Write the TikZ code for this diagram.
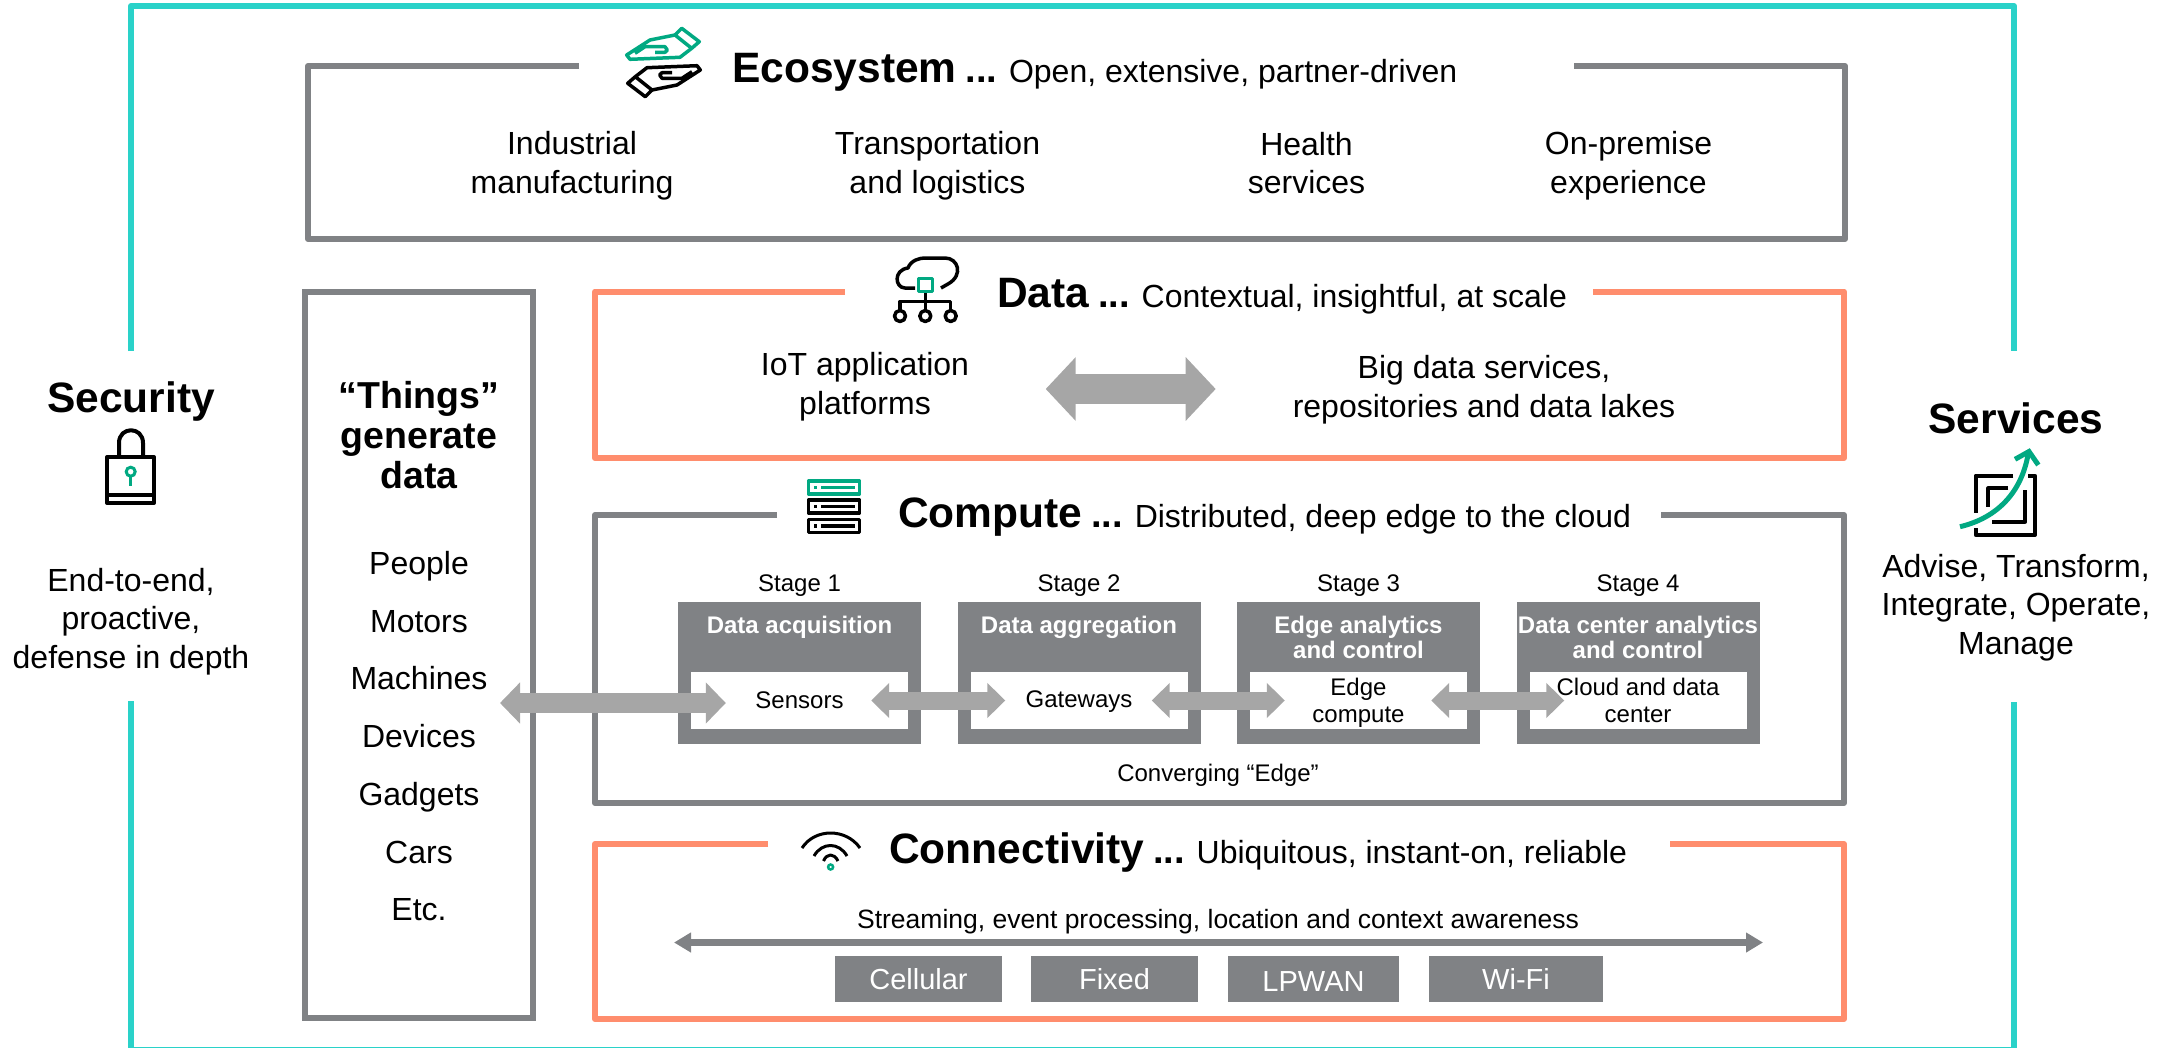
\documentclass[tikz,border=0pt]{standalone}
\usepackage{fontspec}
\setmainfont{Liberation Sans}
\usetikzlibrary{positioning,arrows.meta}
\definecolor{frameteal}{HTML}{2AD2C9}
\definecolor{boxgray}{HTML}{808285}
\definecolor{arrowgray}{HTML}{A6A6A6}
\definecolor{salmon}{HTML}{FF8D6D}
\definecolor{hpegreen}{HTML}{01A982}
\newcommand{\heading}[1]{{\fontsize{42.5}{50}\selectfont\bfseries #1}}
\newcommand{\headdots}{{\fontsize{38}{40}\selectfont\bfseries ...}}
\begin{document}
\begin{tikzpicture}[
    x=1pt, y=-1pt,
    node distance=279.5pt,
    every node/.style={inner sep=0pt},
    frameline/.style={line width=6pt, line join=round},
    bigtxt/.style={font=\fontsize{32}{38.5}\selectfont, align=center},
    titletxt/.style={font=\fontsize{32}{38.5}\selectfont, anchor=base west},
    thingitem/.style={font=\fontsize{32}{38}\selectfont, text height=23pt, text depth=7pt},
    stagebox/.style={rectangle, fill=boxgray, minimum width=243pt, minimum height=142pt},
    stageinner/.style={rectangle, fill=white, minimum width=217pt, minimum height=57pt, font=\fontsize{24}{26.5}\selectfont, align=center},
    stagelabel/.style={font=\fontsize{24}{28}\selectfont},
    stagehead/.style={font=\fontsize{24}{25.5}\selectfont\bfseries, text=white, align=center},
    radiobox/.style={rectangle, fill=boxgray, text=white, minimum height=46pt, font=\fontsize{29}{34}\selectfont},
    bigarrow/.style={arrowgray, line width=18pt, {Triangle[length=18pt,width=34pt]}-{Triangle[length=18pt,width=34pt]}},
    iconline/.style={line width=3.5pt, line join=round},
    hand/.pic={
        \draw [iconline, pic actions] (18.2,-34.2) -- (35.8,-20.8) -- (28.2,-14.2) -- (11.5,-27.5) -- cycle;
        \draw [iconline, pic actions] (14,-28) -- (-13.5,-22.5) -- (-36.8,-7.5) -- (-33.5,-3.2) -- (16.5,-5.2) -- (28.2,-14.2);
        \draw [iconline, pic actions] (-28.5,-9.2) -- (-18.5,-15.8) -- (1.5,-15.8) -- (3.8,-12.5) -- (1.5,-10.2) -- (-8.5,-10.2);
    },
    server/.pic={
        \draw [iconline, pic actions] (-25.5,-6.5) rectangle (25.5,6.5);
        \draw [iconline, pic actions] (-20,0) -- (-17,0) (-13,0) -- (21,0);
    }
]
    \useasboundingbox (0,0) rectangle (2177,1047);

    % Outer frame
    \draw [frameline, frameteal] (131,351) -- (131,6) -- (2014,6) -- (2014,351);
    \draw [frameline, frameteal] (131,701) -- (131,1049.8) -- (2014,1049.8) -- (2014,702);

    % Block outlines
    \draw [frameline, boxgray] (579,66) -- (308,66) -- (308,239) -- (1845,239) -- (1845,66) -- (1574,66);
    \draw [frameline, salmon] (845,291.5) -- (595,291.5) -- (595,458) -- (1844,458) -- (1844,291.5) -- (1593,291.5);
    \draw [frameline, boxgray] (777,515) -- (595,515) -- (595,803) -- (1844,803) -- (1844,515) -- (1661,515);
    \draw [frameline, salmon] (768,844) -- (595,844) -- (595,1019) -- (1844,1019) -- (1844,844) -- (1670,844);
    \node [rectangle, draw=boxgray, line width=6pt, minimum width=228pt, minimum height=726pt] (things) at (419,655) {};

    % Security and services
    \node [font=\fontsize{42.5}{50}\selectfont\bfseries] (security) at (131,402) {Security};
    \node [bigtxt] (securitytxt) at (131,621.5) {End-to-end,\\proactive,\\defense in depth};
    \node [font=\fontsize{42.5}{50}\selectfont\bfseries] (services) at (2016,418) {Services};
    \node [bigtxt] (servicestxt) at (2016,607.5) {Advise, Transform,\\Integrate, Operate,\\Manage};

    % Titles
    \node [titletxt] (ecotitle) at (732,82) {\heading{Ecosystem} \headdots{} Open, extensive, partner-driven};
    \node [titletxt] (datatitle) at (997,307) {\heading{Data} \headdots{} Contextual, insightful, at scale};
    \node [titletxt] (comptitle) at (898,527) {\heading{Compute} \headdots{} Distributed, deep edge to the cloud};
    \node [titletxt] (conntitle) at (889,863) {\heading{Connectivity} \headdots{} Ubiquitous, instant-on, reliable};

    % Ecosystem items
    \node [bigtxt] (industrial) at (572,165.8) {Industrial\\manufacturing};
    \node [bigtxt] (transport) at (937.5,165.8) {Transportation\\and logistics};
    \node [bigtxt] (health) at (1306.5,163) {Health\\services};
    \node [bigtxt] (premise) at (1628.5,165.8) {On-premise\\experience};

    % Data items
    \node [bigtxt] (iot) at (865,386.8) {IoT application\\platforms};
    \node [bigtxt] (bigdata) at (1484,389.8) {Big data services,\\repositories and data lakes};
    \coordinate (dataleft) at (1045.7,389);
    \coordinate (dataright) at (1215.7,389);
    \draw [arrowgray, line width=30pt, {Triangle[length=30pt,width=62pt]}-{Triangle[length=30pt,width=62pt]}] (dataleft) -- (dataright);

    % Things
    \node [font=\fontsize{37.5}{40}\selectfont\bfseries, align=center] (thingstitle) at (419,435) {“Things”\\generate\\data};
    \node [thingitem] (people) at (419,566.5) {People};
    \node [thingitem, below of=people, node distance=57.7pt] (motors) {Motors};
    \node [thingitem, below of=motors, node distance=57.7pt] (machines) {Machines};
    \node [thingitem, below of=machines, node distance=57.7pt] (devices) {Devices};
    \node [thingitem, below of=devices, node distance=57.7pt] (gadgets) {Gadgets};
    \node [thingitem, below of=gadgets, node distance=57.7pt] (cars) {Cars};
    \node [thingitem, below of=cars, node distance=57.7pt] (etc) {Etc.};

    % Stages
    \node [stagebox] (st1) at (799.5,673) {};
    \node [stagebox, right of=st1] (st2) {};
    \node [stagebox, right of=st2] (st3) {};
    \node [stagebox, right of=st3] (st4) {};

    \node [stagelabel] at ([yshift=16.5pt]st1.north) {Stage 1};
    \node [stagelabel] at ([yshift=16.5pt]st2.north) {Stage 2};
    \node [stagelabel] at ([yshift=16.5pt]st3.north) {Stage 3};
    \node [stagelabel] at ([yshift=16.5pt]st4.north) {Stage 4};

    \node [stagehead] at ([yshift=-25.5pt]st1.north) {Data acquisition};
    \node [stagehead] at ([yshift=-25.5pt]st2.north) {Data aggregation};
    \node [stagehead] at ([yshift=-35.5pt]st3.north) {Edge analytics\\and control};
    \node [stagehead] at ([yshift=-35.5pt]st4.north) {Data center analytics\\and control};

    \node [stageinner] (sensors) at ([yshift=-27.5pt]st1.center) {Sensors};
    \node [stageinner] (gateways) at ([yshift=-27.5pt]st2.center) {\rule{0pt}{19.5pt}Gateways};
    \node [stageinner] (edge) at ([yshift=-27.5pt]st3.center) {\rule{0pt}{21.5pt}Edge\\compute};
    \node [stageinner] (cloud) at ([yshift=-27.5pt]st4.center) {};
    \node [stagelabel] (converging) at (1218,775) {Converging “Edge”};

    % Stage arrows
    \coordinate (thingsend) at (500,703);
    \draw [bigarrow, line width=20pt, {Triangle[length=20pt,width=40pt]}-{Triangle[length=20pt,width=40pt]}] (thingsend) -- ([xshift=35pt,yshift=-2.5pt]sensors.west);
    \draw [bigarrow] ([xshift=-37pt]sensors.east) -- ([xshift=35pt]gateways.west);
    \draw [bigarrow] ([xshift=-36pt]gateways.east) -- ([xshift=35pt]edge.west);
    \draw [bigarrow] ([xshift=-36pt]edge.east) -- ([xshift=35pt]cloud.west);
    \node [font=\fontsize{24}{26.5}\selectfont, align=center] at (cloud) {Cloud and data\\center};

    % Connectivity
    \node [font=\fontsize{26.5}{30}\selectfont] (streaming) at (1218,921.8) {Streaming, event processing, location and context awareness};
    \coordinate (streamleft) at (674,942.5);
    \coordinate (streamright) at (1763,942.5);
    \draw [boxgray, line width=7pt, {Triangle[length=17pt,width=19pt]}-{Triangle[length=17pt,width=19pt]}] (streamleft) -- (streamright);
    \node [radiobox, minimum width=167pt] (cellular) at (918.5,979) {Cellular};
    \node [radiobox, minimum width=167pt] (fixed) at (1114.5,979) {Fixed};
    \node [radiobox, minimum width=171pt] (lpwan) at (1313.5,979) {\rule{0pt}{24pt}LPWAN};
    \node [radiobox, minimum width=174pt] (wifi) at (1516,979) {Wi-Fi};

    % Icons
    \pic [hpegreen] at (663.5,62.5) {hand};
    \pic [black, rotate=180] at (663.5,62.5) {hand};

    \draw [iconline] (915,288) -- (905,288) .. controls (895,288) and (893,270) .. (908,268) .. controls (911,260) and (920,258) .. (925,258) -- (945,258) .. controls (958,258) and (964,275) .. (948,284) -- (941,288);
    \draw [iconline, hpegreen] (918.5,278.5) rectangle (932.5,291.5);
    \draw [iconline] (925.5,293) -- (925.5,310) (900,310) -- (900,301.5) -- (950.7,301.5) -- (950.7,310);
    \draw [iconline] (900,316) circle [radius=5.5pt] (925.3,316) circle [radius=5.5pt] (950.7,316) circle [radius=5.5pt];

    \pic [hpegreen] at (834,487.5) {server};
    \pic [black] at (834,506.5) {server};
    \pic [black] at (834,526) {server};

    \draw [iconline, line width=3pt] (802,848) .. controls (815,828) and (846,828) .. (860,848);
    \draw [iconline, line width=3pt] (814,856) .. controls (822,842) and (839,842) .. (847,856);
    \draw [iconline, line width=3pt] (823.5,861) .. controls (827,853) and (834,853) .. (838,861);
    \draw [hpegreen, line width=2.5pt] (830.6,867) circle [radius=2.5pt];

    \draw [iconline, line width=4pt] (107,457) rectangle (154,503) (107,495) -- (154,495);
    \draw [iconline, line width=4pt] (119,455) -- (119,443) .. controls (119,426) and (143,426) .. (143,443) -- (143,455);
    \draw [hpegreen, line width=3pt] (130.7,471.7) circle [radius=4.5pt];
    \draw [hpegreen, line width=3.5pt] (130.7,476) -- (130.7,486);

    \draw [iconline, line width=4pt] (2013.3,475.7) -- (1975.7,475.7) -- (1975.7,513) (2028.3,475.7) -- (2035,475.7) -- (2035,535) -- (1975.7,535) -- (1975.7,528);
    \draw [iconline, line width=4pt] (2008.3,488.3) -- (1988.3,488.3) -- (1988.3,506.7) (2025,490) -- (2025,521.7) -- (1991.7,521.7);
    \draw [hpegreen, line width=5pt] (1960,526.7) .. controls (1996.7,518) and (2021.7,493) .. (2028.3,453);
    \draw [hpegreen, line width=5pt] (2015,459.3) -- (2029,451.5) -- (2038.3,465);
\end{tikzpicture}
\end{document}
